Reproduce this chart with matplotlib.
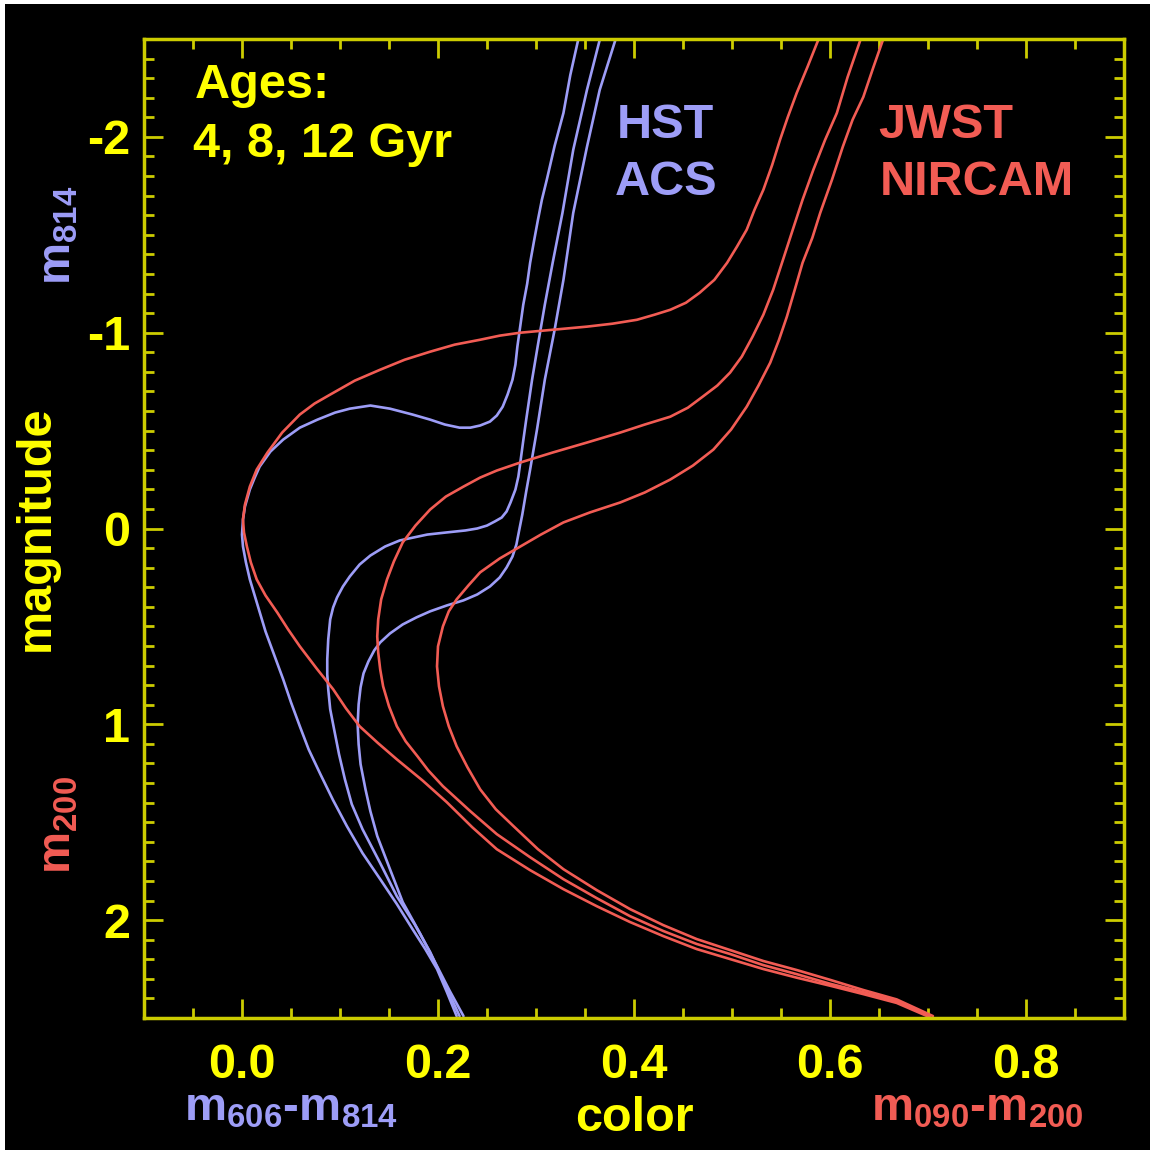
import numpy as np
import matplotlib.pyplot as plt
from matplotlib.patches import Rectangle
from matplotlib.ticker import MultipleLocator

plt.rcParams['font.family'] = ['Liberation Sans', 'DejaVu Sans']
plt.rcParams['font.weight'] = 'bold'
plt.rcParams['mathtext.default'] = 'regular'
plt.rcParams['axes.unicode_minus'] = False

# ---- data: isochrones (color, magnitude) ----
# HST ACS, m606-m814 vs m814
hst4_x = [0.219, 0.209, 0.199, 0.187, 0.174, 0.158, 0.141, 0.123, 0.107, 0.093, 0.080, 0.068,
          0.059, 0.050, 0.042, 0.033, 0.024, 0.016, 0.008, 0.004, 0.001, 0.000, 0.001, 0.003,
          0.008, 0.013, 0.018, 0.029, 0.042, 0.059, 0.077, 0.095, 0.110, 0.131, 0.151, 0.174,
          0.192, 0.207, 0.222, 0.233, 0.243, 0.253, 0.260, 0.266, 0.271, 0.276, 0.279, 0.281,
          0.284, 0.287, 0.291, 0.294, 0.298, 0.302, 0.306, 0.311, 0.319, 0.328, 0.335, 0.343]
hst4_y = [2.490, 2.367, 2.250, 2.148, 2.046, 1.918, 1.791, 1.658, 1.520, 1.388, 1.255, 1.128,
          1.010, 0.888, 0.770, 0.648, 0.526, 0.393, 0.260, 0.173, 0.092, 0.031, -0.046, -0.112,
          -0.199, -0.260, -0.316, -0.393, -0.454, -0.515, -0.556, -0.592, -0.612, -0.628, -0.612, -0.582,
          -0.556, -0.531, -0.515, -0.515, -0.526, -0.546, -0.577, -0.622, -0.684, -0.760, -0.837, -0.929,
          -1.036, -1.143, -1.250, -1.357, -1.469, -1.577, -1.679, -1.781, -1.954, -2.122, -2.316, -2.495]

hst8_x = [0.222, 0.207, 0.192, 0.176, 0.158, 0.141, 0.123, 0.112, 0.105, 0.099, 0.094, 0.090,
          0.088, 0.087, 0.087, 0.088, 0.090, 0.093, 0.097, 0.103, 0.110, 0.120, 0.131, 0.146,
          0.161, 0.189, 0.209, 0.228, 0.240, 0.250, 0.258, 0.265, 0.270, 0.274, 0.279, 0.282,
          0.284, 0.287, 0.290, 0.296, 0.302, 0.309, 0.317, 0.327, 0.338, 0.352, 0.365]
hst8_y = [2.490, 2.327, 2.163, 2.020, 1.878, 1.709, 1.536, 1.408, 1.281, 1.153, 1.026, 0.923,
          0.821, 0.745, 0.668, 0.566, 0.464, 0.403, 0.352, 0.296, 0.245, 0.184, 0.138, 0.092,
          0.061, 0.031, 0.020, 0.010, 0.000, -0.015, -0.036, -0.056, -0.087, -0.133, -0.199, -0.265,
          -0.337, -0.449, -0.556, -0.760, -0.939, -1.143, -1.357, -1.612, -1.934, -2.240, -2.495]

hst12_x = [0.226, 0.212, 0.199, 0.182, 0.164, 0.151, 0.138, 0.131, 0.126, 0.121, 0.119, 0.118,
           0.119, 0.121, 0.124, 0.129, 0.135, 0.141, 0.151, 0.164, 0.178, 0.192, 0.209, 0.226,
           0.240, 0.253, 0.263, 0.270, 0.276, 0.280, 0.283, 0.286, 0.290, 0.294, 0.301, 0.309,
           0.319, 0.328, 0.338, 0.352, 0.365, 0.381]
hst12_y = [2.490, 2.362, 2.235, 2.071, 1.908, 1.740, 1.571, 1.444, 1.332, 1.204, 1.102, 1.000,
           0.898, 0.811, 0.740, 0.679, 0.622, 0.582, 0.536, 0.490, 0.454, 0.423, 0.393, 0.367,
           0.337, 0.296, 0.250, 0.199, 0.143, 0.082, 0.005, -0.071, -0.189, -0.301, -0.505, -0.760,
           -1.015, -1.270, -1.612, -1.949, -2.240, -2.495]

# JWST NIRCAM, m090-m200 vs m200
jw4_x = [0.699, 0.668, 0.634, 0.600, 0.566, 0.532, 0.498, 0.464, 0.430, 0.396, 0.362,
         0.328, 0.294, 0.260, 0.235, 0.209, 0.184, 0.158, 0.139, 0.120, 0.106, 0.093, 0.076,
         0.059, 0.047, 0.036, 0.024, 0.015, 0.009, 0.005, 0.002, 0.001, 0.003, 0.008, 0.015,
         0.026, 0.041, 0.059, 0.074, 0.090, 0.115, 0.141, 0.166, 0.192, 0.217, 0.243, 0.263,
         0.284, 0.317, 0.352, 0.378, 0.403, 0.421, 0.437, 0.453, 0.467, 0.482, 0.495, 0.505,
         0.515, 0.523, 0.532, 0.541, 0.549, 0.557, 0.566, 0.577, 0.588]
jw4_y = [2.490, 2.423, 2.378, 2.335, 2.294, 2.250, 2.199, 2.148, 2.082, 2.010, 1.929,
         1.842, 1.745, 1.638, 1.526, 1.398, 1.286, 1.179, 1.097, 1.010, 0.918, 0.821, 0.714,
         0.602, 0.515, 0.429, 0.342, 0.260, 0.173, 0.092, 0.020, -0.046, -0.122, -0.214, -0.301,
         -0.388, -0.490, -0.582, -0.638, -0.684, -0.755, -0.811, -0.862, -0.903, -0.939, -0.964, -0.985,
         -1.000, -1.015, -1.031, -1.046, -1.066, -1.092, -1.117, -1.153, -1.204, -1.270, -1.357, -1.439,
         -1.526, -1.628, -1.730, -1.857, -1.985, -2.102, -2.224, -2.357, -2.495]

jw8_x = [0.702, 0.668, 0.634, 0.600, 0.566, 0.532, 0.498, 0.464, 0.430, 0.396, 0.362, 0.328,
         0.294, 0.260, 0.233, 0.205, 0.190, 0.179, 0.167, 0.158, 0.150, 0.144, 0.141, 0.139,
         0.138, 0.139, 0.142, 0.148, 0.155, 0.164, 0.177, 0.192, 0.208, 0.226, 0.243, 0.260,
         0.284, 0.317, 0.352, 0.386, 0.411, 0.437, 0.455, 0.470, 0.485, 0.498, 0.510, 0.521,
         0.532, 0.542, 0.552, 0.562, 0.572, 0.583, 0.595, 0.607, 0.618, 0.631]
jw8_y = [2.490, 2.415, 2.368, 2.325, 2.276, 2.230, 2.173, 2.122, 2.056, 1.980, 1.888, 1.791,
         1.679, 1.561, 1.444, 1.316, 1.235, 1.163, 1.087, 1.010, 0.908, 0.806, 0.719, 0.633,
         0.551, 0.464, 0.362, 0.260, 0.168, 0.071, -0.015, -0.097, -0.163, -0.214, -0.260, -0.296,
         -0.337, -0.388, -0.439, -0.490, -0.531, -0.571, -0.617, -0.673, -0.730, -0.796, -0.878, -0.980,
         -1.092, -1.219, -1.372, -1.526, -1.679, -1.832, -1.985, -2.122, -2.306, -2.495]

jw12_x = [0.705, 0.668, 0.634, 0.600, 0.566, 0.532, 0.498, 0.464, 0.430, 0.396, 0.362,
          0.328, 0.302, 0.277, 0.259, 0.243, 0.230, 0.219, 0.211, 0.205, 0.201, 0.199, 0.200,
          0.205, 0.211, 0.219, 0.231, 0.243, 0.263, 0.284, 0.305, 0.328, 0.355, 0.386, 0.411,
          0.437, 0.460, 0.481, 0.499, 0.515, 0.527, 0.539, 0.548, 0.556, 0.564, 0.572, 0.582,
          0.590, 0.602, 0.613, 0.623, 0.634, 0.644, 0.654]
jw12_y = [2.490, 2.405, 2.357, 2.305, 2.255, 2.209, 2.153, 2.097, 2.026, 1.944, 1.847,
          1.740, 1.638, 1.520, 1.434, 1.332, 1.219, 1.112, 1.010, 0.908, 0.806, 0.704, 0.602,
          0.500, 0.423, 0.362, 0.291, 0.224, 0.153, 0.092, 0.031, -0.031, -0.082, -0.133, -0.184,
          -0.250, -0.321, -0.403, -0.505, -0.622, -0.730, -0.847, -0.964, -1.082, -1.219, -1.357, -1.485,
          -1.612, -1.781, -1.949, -2.087, -2.204, -2.352, -2.495]

xticks = [0.0, 0.2, 0.4, 0.6, 0.8]
xticklabels = ['0.0', '0.2', '0.4', '0.6', '0.8']
yticks = [-2, -1, 0, 1, 2]
yticklabels = ['-2', '-1', '0', '1', '2']

# ---- style ----
W, H = 1153, 1154
def fpos(x, y):
    # pixel position (from top-left) -> figure fraction
    return x / W, 1 - y / H

yellow = '#ffff00'
frame_col = '#cccc00'
hst_col = '#9d9df7'
jw_col = '#f25c54'
fs = 35

fig = plt.figure(figsize=(W / 100, H / 100), dpi=100, facecolor='white')
fig.add_artist(Rectangle((5 / W, 4 / H), 1145 / W, 1146 / H, transform=fig.transFigure,
                         facecolor='black', edgecolor='none', zorder=-10))

ax = fig.add_axes([144 / W, 1 - 1018 / H, 980 / W, 979 / H])
ax.set_facecolor('black')

for xs, ys in [(hst4_x, hst4_y), (hst8_x, hst8_y), (hst12_x, hst12_y)]:
    ax.plot(xs, ys, color=hst_col, lw=1.9, solid_joinstyle='round', solid_capstyle='round')
for xs, ys in [(jw4_x, jw4_y), (jw8_x, jw8_y), (jw12_x, jw12_y)]:
    ax.plot(xs, ys, color=jw_col, lw=1.9, solid_joinstyle='round', solid_capstyle='round')

ax.set_xlim(-0.1, 0.9)
ax.set_ylim(2.5, -2.5)
ax.set_xticks(xticks)
ax.set_xticklabels(xticklabels)
ax.set_yticks(yticks)
ax.set_yticklabels(yticklabels)
ax.xaxis.set_minor_locator(MultipleLocator(0.05))
ax.yaxis.set_minor_locator(MultipleLocator(0.1))
ax.tick_params(which='both', direction='in', top=True, right=True, color=frame_col, width=2)
ax.tick_params(which='major', length=14)
ax.tick_params(which='minor', length=7)
ax.tick_params(axis='x', labelsize=fs, labelcolor=yellow, pad=18)
ax.tick_params(axis='y', labelsize=fs, labelcolor=yellow, pad=10)
for s in ax.spines.values():
    s.set_color(frame_col)
    s.set_linewidth(2.5)

# axis labels
fig.text(*fpos(291, 1121), 'm$_{606}$-m$_{814}$', color=hst_col, fontsize=34, ha='center', va='baseline')
fig.text(*fpos(634, 1131), 'color', color=yellow, fontsize=fs, ha='center', va='baseline')
fig.text(*fpos(977, 1121), 'm$_{090}$-m$_{200}$', color=jw_col, fontsize=34, ha='center', va='baseline')
fig.text(*fpos(58, 235), 'm$_{814}$', color=hst_col, fontsize=34, rotation=90, ha='center', va='center')
fig.text(*fpos(36, 528), 'magnitude', color=yellow, fontsize=fs, rotation=90, ha='center', va='center')
fig.text(*fpos(58, 825), 'm$_{200}$', color=jw_col, fontsize=34, rotation=90, ha='center', va='center')

# annotations
fig.text(*fpos(195, 98), 'Ages:', color=yellow, fontsize=fs, ha='left', va='baseline')
fig.text(*fpos(193, 157), '4, 8, 12 Gyr', color=yellow, fontsize=fs, ha='left', va='baseline')
fig.text(*fpos(617, 138), 'HST', color=hst_col, fontsize=fs, ha='left', va='baseline')
fig.text(*fpos(615, 195), 'ACS', color=hst_col, fontsize=fs, ha='left', va='baseline')
fig.text(*fpos(878, 138), 'JWST', color=jw_col, fontsize=fs, ha='left', va='baseline')
fig.text(*fpos(880, 195), 'NIRCAM', color=jw_col, fontsize=fs, ha='left', va='baseline')

fig.savefig('out.png', dpi=100, facecolor=fig.get_facecolor())
